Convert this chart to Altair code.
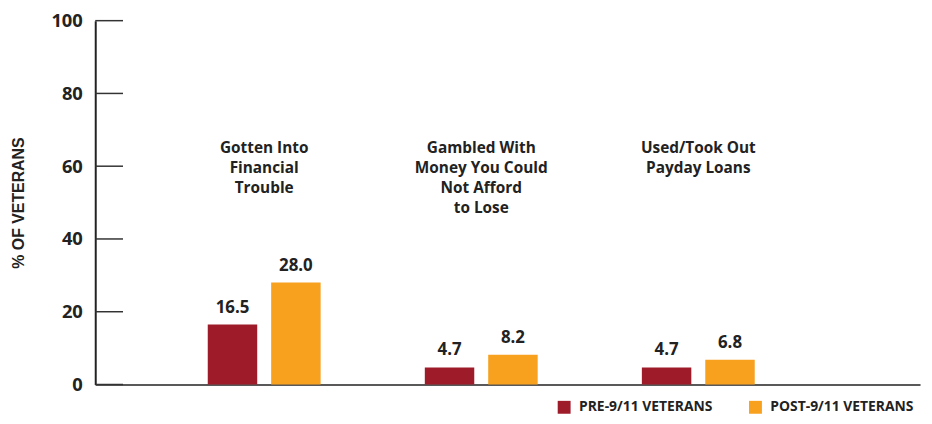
import altair as alt
import pandas as pd

categories = ["Gotten Into\nFinancial\nTrouble",
              "Gambled With\nMoney You Could\nNot Afford\nto Lose",
              "Used/Took Out\nPayday Loans"]
groups = ["PRE-9/11 VETERANS", "POST-9/11 VETERANS"]
pre_values = [16.5, 4.7, 4.7]
post_values = [28.0, 8.2, 6.8]
y_ticks = [0, 20, 40, 60, 80, 100]
colors = ["#9e1b29", "#f7a11e"]

FONT = "Open Sans"

rows = []
for c, p, q in zip(categories, pre_values, post_values):
    rows.append({"cat": c, "group": groups[0], "value": p})
    rows.append({"cat": c, "group": groups[1], "value": q})
df = pd.DataFrame(rows)
cat_df = pd.DataFrame({"cat": categories})
tick_df = pd.DataFrame({"t": y_ticks})

x_scale = alt.Scale(domain=categories, paddingInner=0.48, paddingOuter=0.64, align=0.405)
xo_scale = alt.Scale(domain=groups, paddingInner=0.22, paddingOuter=0)
y_scale = alt.Scale(domain=[0, 100], nice=False)

x_enc = alt.X("cat:N", scale=x_scale, sort=categories,
              axis=alt.Axis(labels=False, ticks=False, title=None, domain=True,
                            domainColor="#222222", domainWidth=1.5))
y_enc = alt.Y("value:Q", scale=y_scale,
              axis=alt.Axis(values=y_ticks, title="% OF VETERANS", tickSize=0,
                            labelPadding=13, labelFontSize=18.5, labelFont=FONT,
                            labelFontWeight="bold", labelColor="#222222",
                            titleFont="Liberation Sans", titleFontSize=16, titleFontWeight="bold",
                            titleColor="#222222", titlePadding=25,
                            domainColor="#222222", domainWidth=2, grid=False))

bars = alt.Chart(df).mark_bar().encode(
    x=x_enc,
    xOffset=alt.XOffset("group:N", scale=xo_scale, sort=groups),
    y=y_enc,
    color=alt.Color("group:N", scale=alt.Scale(domain=groups, range=colors),
                    legend=alt.Legend(title=None, orient="none", legendX=466, legendY=383,
                                      direction="horizontal", symbolType="square",
                                      symbolSize=169, symbolStrokeWidth=0,
                                      labelFont=FONT, labelFontSize=14,
                                      labelFontWeight="bold", labelColor="#222222",
                                      columnPadding=36, labelOffset=8)),
)

values = alt.Chart(df).mark_text(baseline="alphabetic", dy=-12, font=FONT, fontSize=17,
                                 fontWeight="bold", color="#222222").encode(
    x=alt.X("cat:N", scale=x_scale, sort=categories),
    xOffset=alt.XOffset("group:N", scale=xo_scale, sort=groups),
    y=alt.Y("value:Q", scale=y_scale),
    text=alt.Text("value:Q", format=".1f"),
)

labels = alt.Chart(cat_df).mark_text(baseline="top", lineBreak="\n", font=FONT,
                                     fontSize=15.5, fontWeight="bold", lineHeight=20,
                                     color="#222222").encode(
    x=alt.X("cat:N", scale=x_scale, sort=categories),
    y=alt.datum(66.8, scale=y_scale),
    text="cat:N",
)

ticks = alt.Chart(tick_df).mark_rule(color="#333333", strokeWidth=1.5).encode(
    y=alt.Y("t:Q", scale=y_scale),
    x=alt.value(0),
    x2=alt.value(28),
)

chart = alt.layer(bars, values, labels, ticks).properties(
    width=832, height=367,
    autosize=alt.AutoSizeParams(type="none"),
    padding={"left": 88, "top": 11, "right": 4, "bottom": 30},
).configure_view(stroke=None)

chart.save("out.html", embed_options={"renderer": "svg", "actions": False})
